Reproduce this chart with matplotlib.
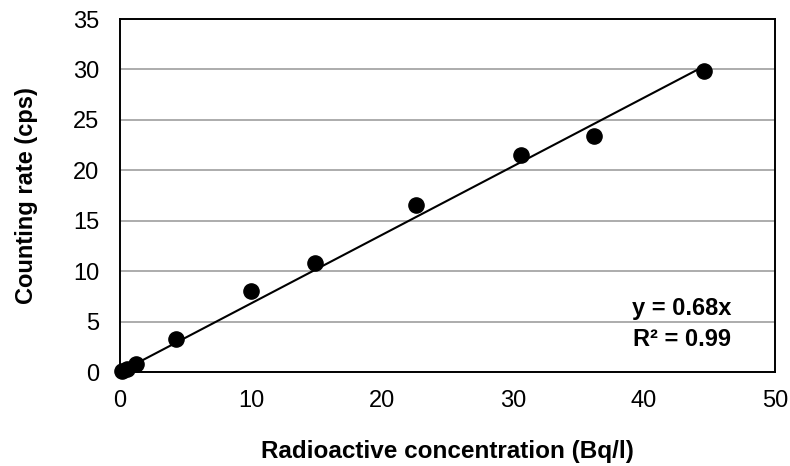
import numpy as np
import matplotlib
matplotlib.use('Agg')
import matplotlib.pyplot as plt

plt.rcParams['font.family'] = ['Liberation Sans', 'DejaVu Sans']

# measured points
conc = [0.15, 0.5, 1.2, 4.3, 10.0, 14.9, 22.6, 30.6, 36.2, 44.6]
rate = [0.1, 0.3, 0.8, 3.3, 8.0, 10.8, 16.6, 21.5, 23.4, 29.8]
slope = 0.68
r2 = 0.99

fig = plt.figure(figsize=(7.9, 4.66), dpi=100)
ax = fig.add_axes([0.1519, 0.2017, 0.8291, 0.7575])

ax.set_xlim(0, 50)
ax.set_ylim(0, 35)
ax.set_xticks(np.arange(0, 51, 10))
ax.set_yticks(np.arange(0, 36, 5))
ax.grid(axis='y', color='#a6a6a6', linewidth=1.3)
ax.set_axisbelow(True)
for s in ax.spines.values():
    s.set_color('black')
    s.set_linewidth(1.4)
ax.tick_params(length=0, labelsize=17)
ax.tick_params(axis='x', pad=13)
ax.tick_params(axis='y', pad=15)

# trend line through origin
xfit = np.array([0, max(conc)])
ax.plot(xfit, slope * xfit, color='black', linewidth=1.5, zorder=2)
ax.scatter(conc, rate, s=120, color='black', zorder=3, clip_on=False)

ax.text(0.858, 0.181, 'y = %.2fx' % slope, transform=ax.transAxes, ha='center', va='center',
        fontsize=17, fontweight='bold')
ax.text(0.858, 0.091, 'R² = %.2f' % r2, transform=ax.transAxes, ha='center', va='center',
        fontsize=17, fontweight='bold')

ax.set_xlabel('Radioactive concentration (Bq/l)', fontsize=17.5, fontweight='bold', labelpad=20)
ax.set_ylabel('Counting rate (cps)', fontsize=17, fontweight='bold', labelpad=25)

fig.savefig('out.png', dpi=100)
